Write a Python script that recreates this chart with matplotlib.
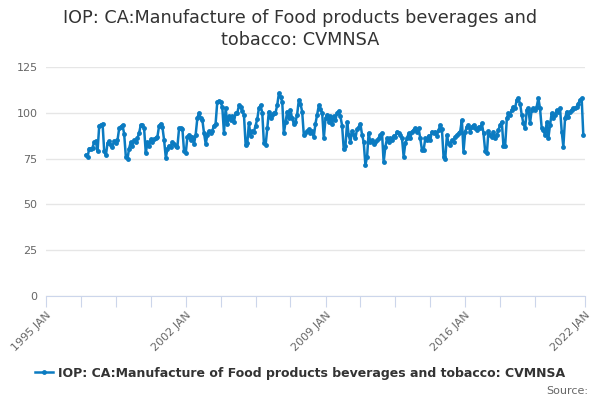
import matplotlib
matplotlib.use("Agg")
import matplotlib.pyplot as plt
import pandas as pd

title = "IOP: CA:Manufacture of Food products beverages and\ntobacco: CVMNSA"
series_name = "IOP: CA:Manufacture of Food products beverages and tobacco: CVMNSA"
start_month = "1997-01-01"

v1997 = [77, 76, 80.5, 80.5, 81, 84, 84.5, 79, 93, 93.5, 94, 79]
v1998 = [77, 83.5, 84.5, 82.5, 81.5, 84.5, 83.5, 85, 91.5, 92.5, 93.3, 88.5]
v1999 = [76, 75, 80.5, 84, 82, 85, 84, 86, 89, 93.3, 93.3, 91.5]
v2000 = [78, 84, 82, 85.5, 84, 85.5, 86, 87, 93, 94, 92, 85]
v2001 = [75.5, 80.5, 82, 81.5, 84, 83, 82, 81.5, 91.5, 91.5, 91, 79]
v2002 = [78, 87, 88, 85, 87, 83, 88, 97, 100, 97, 96, 89]
v2003 = [83, 88, 90, 89, 90, 93, 94, 106, 106.5, 106, 103, 89]
v2004 = [102.5, 94, 98, 96, 98, 95, 100, 100, 104, 103, 101, 98.8]
v2005 = [82.4, 83.5, 94.4, 87.6, 90, 89.6, 93, 96.4, 102.6, 104, 100, 83.3]
v2006 = [82.4, 91.5, 100.6, 97, 99, 100, 100, 104, 110.6, 108.8, 106, 88.8]
v2007 = [95, 100.6, 97, 101.5, 97, 94, 95, 99, 107, 105, 100.6, 88]
v2008 = [89, 90, 91, 89, 90, 87, 94, 99, 104, 102, 100, 86]
v2009 = [97, 99, 95, 98, 94, 98, 96, 100, 101, 98, 93, 80]
v2010 = [82, 95, 88, 84, 90, 88, 86, 91, 92, 94, 88, 84]
v2011 = [71.5, 76, 89, 84, 85, 83, 84, 85, 86, 88, 89, 73]
v2012 = [81.5, 86, 84, 86, 85, 87.5, 87, 89.7, 89, 88, 86, 76]
v2013 = [83.5, 86, 88.8, 86, 89.7, 90.6, 91.5, 89.7, 91.5, 86, 79.7, 79.7]
v2014 = [86, 85, 87.6, 85, 89.7, 89, 89.7, 87.6, 90.6, 93.3, 91, 76]
v2015 = [75, 87.9, 83.3, 82.4, 85, 84.2, 86.9, 87.9, 88.8, 89.7, 96, 78.8]
v2016 = [89.7, 92.4, 93.3, 89.7, 92.4, 93.3, 91.5, 90.6, 92.4, 91.5, 94.2, 88.8]
v2017 = [79, 78, 90, 88, 87, 89.7, 86, 88, 90.6, 93.3, 95, 82]
v2018 = [82, 97, 99.7, 98.8, 101.5, 103.3, 102.5, 107, 107.9, 105, 98.8, 94.2]
v2019 = [91.5, 101.5, 102.5, 94.2, 101.5, 102.5, 101.5, 103.3, 107.9, 102.5, 91.5, 90.6]
v2020 = [87.9, 95, 86, 93.3, 99.7, 97, 98.8, 101.5, 100.6, 102.5, 89.7, 81.5]
v2021 = [97, 100.6, 97.9, 100.6, 101.5, 102.5, 102.5, 103.3, 105, 107, 107.9, 87.9]

values = (v1997 + v1998 + v1999 + v2000 + v2001 + v2002 + v2003 + v2004 + v2005
          + v2006 + v2007 + v2008 + v2009 + v2010 + v2011 + v2012 + v2013 + v2014
          + v2015 + v2016 + v2017 + v2018 + v2019 + v2020 + v2021)
dates = pd.date_range(start_month, periods=len(values), freq="MS")

y_ticks = [0, 25, 50, 75, 100, 125]
labeled_years = ["1995 JAN", "2002 JAN", "2009 JAN", "2016 JAN", "2022 JAN"]

color = "#0b7bc1"

fig = plt.figure(figsize=(6, 4), dpi=100)
ax = fig.add_axes([46/600, 1-296/400, (585-46)/600, (296-67)/400])

ax.plot(dates, values, color=color, lw=1.8, marker="o", ms=3.5,
        markeredgewidth=0, zorder=3, label=series_name)

ax.set_ylim(0, 125)
ax.set_yticks(y_ticks)
ax.set_xlim(pd.Timestamp("1995-01-01"), pd.Timestamp("2022-01-01"))

tick_dates = list(pd.date_range("1995-01-01", "2019-12-31", freq="21MS")) + [pd.Timestamp("2022-01-01")]
ax.set_xticks(tick_dates)
lab = []
for d in tick_dates:
    s = f"{d.year} JAN"
    lab.append(s if (s in labeled_years and d.month == 1) else "")
ax.set_xticklabels(lab, rotation=45, ha="right", rotation_mode="anchor")

ax.grid(axis="y", color="#e6e6e6", lw=1)
ax.set_axisbelow(True)
for s in ["top", "right", "left"]:
    ax.spines[s].set_visible(False)
ax.spines["bottom"].set_color("#ccd6eb")
ax.tick_params(axis="x", length=8, color="#ccd6eb", labelsize=8, labelcolor="#666666", pad=2)
ax.tick_params(axis="y", length=0, labelsize=8, labelcolor="#666666", pad=6)

fig.text(0.5, 1-29/400, title, ha="center", va="center", fontsize=12.7, color="#333333",
         linespacing=1.25)

fig.legend(loc="center", bbox_to_anchor=(0.5, 1-373/400), frameon=False,
           prop={"weight": "bold", "size": 9}, handlelength=1.4, labelcolor="#333333",
           handletextpad=0.4)
fig.text(588/600, 1-391/400, "Source:", ha="right", va="center", fontsize=8, color="#666666")

fig.savefig("out.png", dpi=100)
